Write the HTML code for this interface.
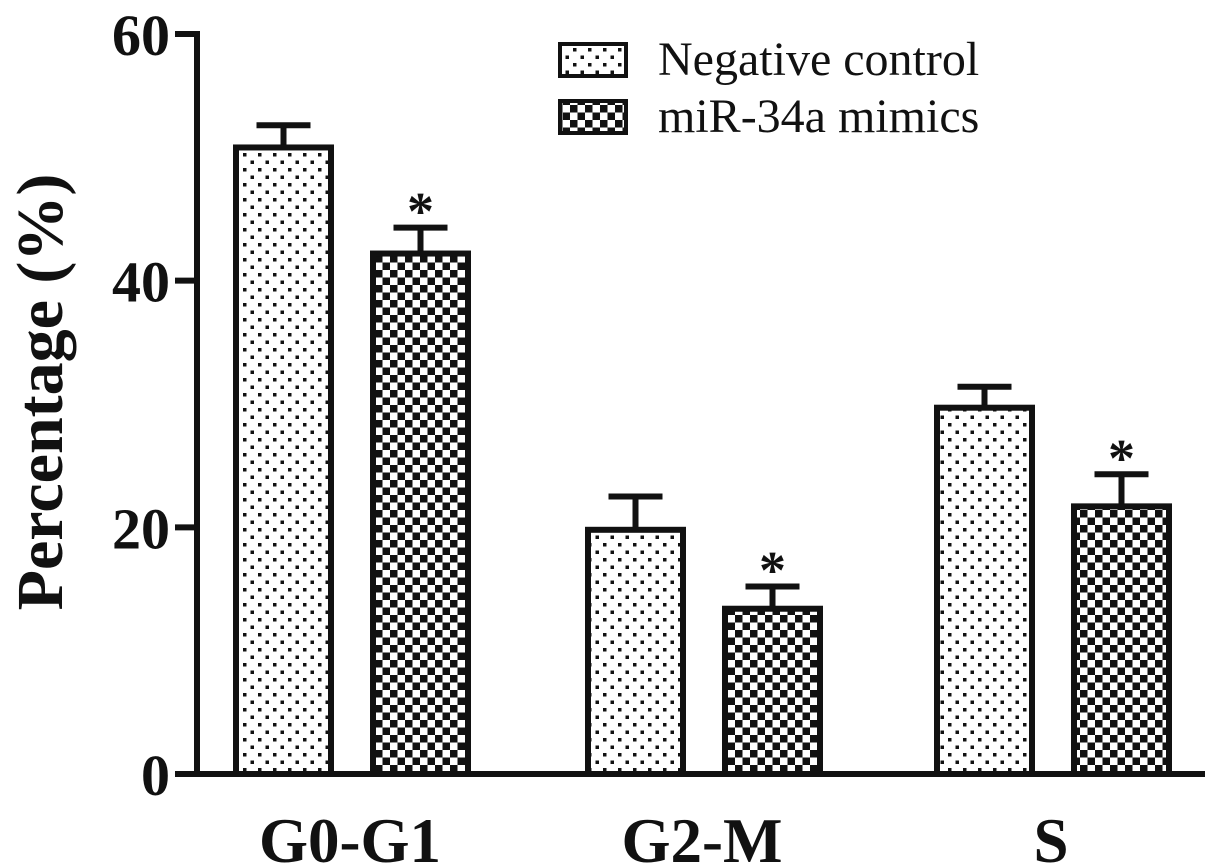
<!DOCTYPE html>
<html><head><meta charset="utf-8"><style>
body{margin:0;background:#fff}
svg{display:block}
text{font-family:"Liberation Serif",serif;fill:#111}
</style></head><body>
<svg id="c" width="1205" height="867" viewBox="0 0 1205 867">
<defs>
<pattern id="dots" width="15" height="15" patternUnits="userSpaceOnUse">
<rect width="15" height="15" fill="#fff"/>
<rect x="3" y="3" width="3.5" height="3.5" fill="#111"/>
<rect x="10.5" y="10.5" width="3.5" height="3.5" fill="#111"/>
</pattern>
<pattern id="check" width="15" height="15" patternUnits="userSpaceOnUse">
<rect width="15" height="15" fill="#fff"/>
<rect x="0" y="0" width="7.5" height="7.5" fill="#111"/>
<rect x="7.5" y="7.5" width="7.5" height="7.5" fill="#111"/>
</pattern>
</defs>
<g id="plot"></g>
</svg>
<script>
const categories = ["G0-G1","G2-M","S"];
const seriesNames = ["Negative control","miR-34a mimics"];
const ncValues = [50.8, 19.8, 29.7];
const ncErrors = [1.8, 2.7, 1.7];
const mimValues = [42.2, 13.4, 21.7];
const mimErrors = [2.1, 1.8, 2.6];
const significant = [true, true, true];
const yTicks = [0, 20, 40, 60];

const NS="http://www.w3.org/2000/svg";
const g=document.getElementById('plot');
function el(t,a,p){const e=document.createElementNS(NS,t);for(const k in a)e.setAttribute(k,a[k]);(p||g).appendChild(e);return e;}
const y0=774, yTop=34, yMax=60;
function yScale(v){return y0-(v/yMax)*(y0-yTop);}
const groupStart=[236,588,937], barW=95, gap=42;
function xBar(i,s){return groupStart[i]+s*(barW+gap);}

const series=[[ncValues,ncErrors,'url(#dots)'],[mimValues,mimErrors,'url(#check)']];
categories.forEach((c,i)=>{
  series.forEach((sr,s)=>{
    const v=sr[0][i], e=sr[1][i], x=xBar(i,s), top=yScale(v), cx=x+barW/2;
    const l=el('line',{x1:cx,x2:cx,y1:top,y2:yScale(v+e),stroke:'#111','stroke-width':6});
    
    
    const cap=el('line',{x1:cx-27,x2:cx+27,y1:yScale(v+e),y2:yScale(v+e),stroke:'#111','stroke-width':6});
    
    
    const r=el('rect',{x:x,y:top,width:barW,height:y0-top,fill:sr[2],stroke:'#111','stroke-width':6});
    
    
    if(s===1&&significant[i]){
      const t=el('text',{x:cx,y:yScale(v+e)+2,'text-anchor':'middle','font-size':54,'font-weight':'bold'});
      t.textContent='*';
      
      
    }
  });
  const lt=el('text',{x:xBar(i,0)+(barW*2+gap)/2-2,y:862,'text-anchor':'middle','font-size':63,'font-weight':'bold'});
  lt.textContent=c;
  
  
});
const ya=el('line',{x1:197,x2:197,y1:31,y2:777,stroke:'#111','stroke-width':6});


const xa=el('line',{x1:175,x2:1205,y1:774,y2:774,stroke:'#111','stroke-width':6});


yTicks.forEach(v=>{
  const t=el('line',{x1:175,x2:197,y1:yScale(v),y2:yScale(v),stroke:'#111','stroke-width':6});
  
  
  const tx=el('text',{x:170,y:yScale(v)+21,'text-anchor':'end','font-size':58,'font-weight':'bold','font-family':'Liberation Sans, sans-serif'});
  tx.textContent=v;
  
  
});
const yt=el('text',{transform:'translate(62,392) rotate(-90)','text-anchor':'middle','font-size':66,'font-weight':'bold'});
yt.textContent='Percentage (%)';


const fills=['url(#dots)','url(#check)'];
seriesNames.forEach((n,s)=>{
  const ly=44+s*57;
  const r=el('rect',{x:560,y:ly,width:66,height:32,fill:fills[s],stroke:'#111','stroke-width':4});
  
  
  const t=el('text',{x:658,y:ly+31,'font-size':48});
  t.textContent=n;
  
  
});
</script>
</body></html>
